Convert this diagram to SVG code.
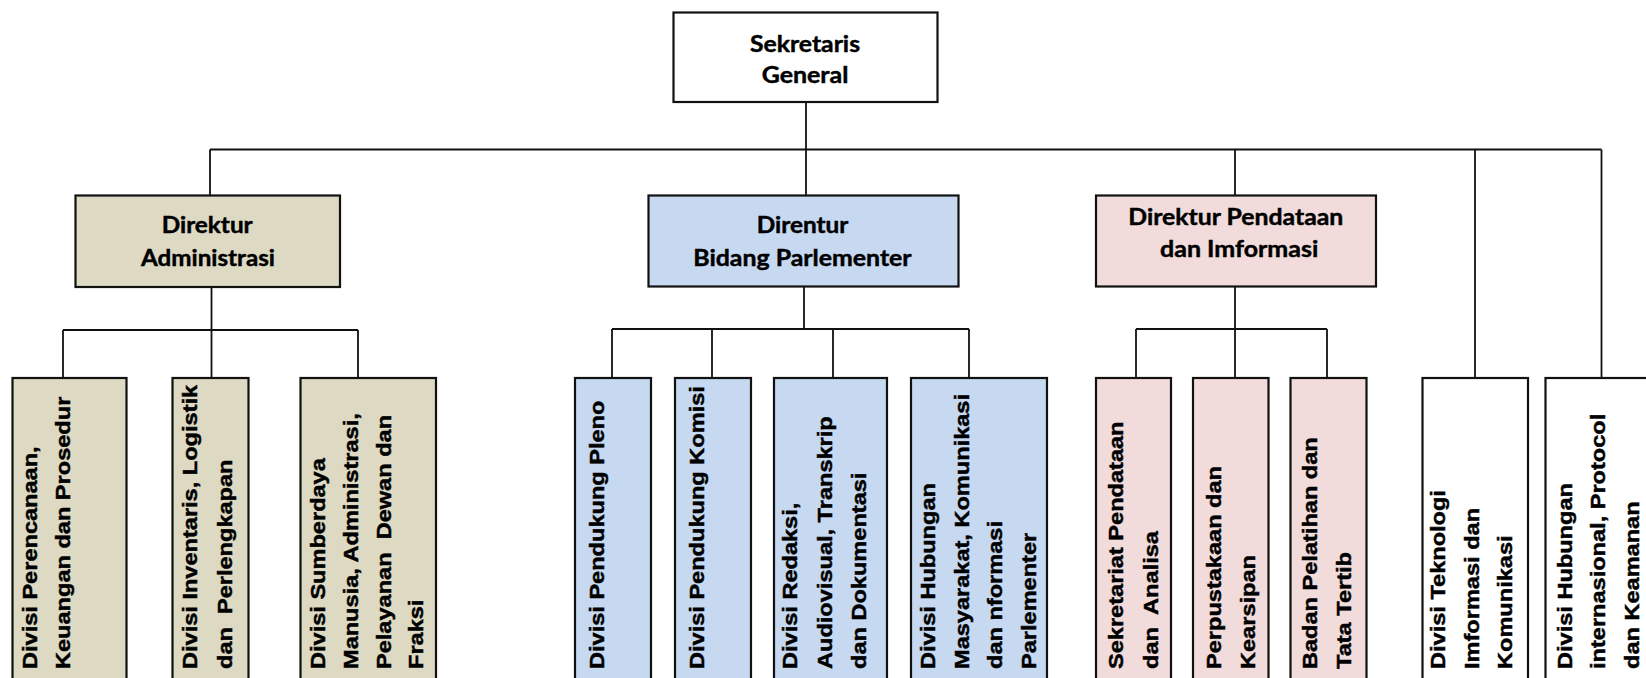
<svg xmlns="http://www.w3.org/2000/svg" width="1646" height="678" viewBox="0 0 1646 678">
  <style>
    .box { stroke: #111; stroke-width: 2.2; }
    .tan { fill: #DDD9C3; }
    .blue { fill: #C6D9F1; }
    .pink { fill: #F2DCDB; }
    .plain { fill: #FFFFFF; }
    .link { stroke: #111; stroke-width: 1.8; fill: none; }
    .head { font-family: Lato, "Open Sans", "Liberation Sans", sans-serif; font-weight: 700; font-size: 23px; fill: #000; stroke: #000; stroke-width: 0.45; }
    .unit { font-family: "Liberation Sans", Arial, sans-serif; font-weight: 700; font-size: 20.5px; fill: #000; stroke: #000; stroke-width: 0.45; white-space: pre; }
  </style>

  <rect x="0" y="0" width="1646" height="678" fill="#FFFFFF"/>

  <!-- connectors -->
  <g id="connectors" class="link">
    <!-- top level -->
    <path d="M806 102 V195"/>
    <path d="M210 149.5 H1601.5"/>
    <path d="M210 149.5 V195"/>
    <path d="M1235 149.5 V195"/>
    <path d="M1475 149.5 V378"/>
    <path d="M1601.5 149.5 V378"/>
    <!-- administrasi branch -->
    <path d="M211.5 287 V330"/>
    <path d="M63 330 H358"/>
    <path d="M63 330 V378 M211.5 330 V378 M358 330 V378"/>
    <!-- parlementer branch -->
    <path d="M804 287 V329"/>
    <path d="M612 329 H969"/>
    <path d="M612 329 V378 M712 329 V378 M833 329 V378 M969 329 V378"/>
    <!-- pendataan branch -->
    <path d="M1235 287 V329"/>
    <path d="M1136 329 H1327"/>
    <path d="M1136 329 V378 M1235 329 V378 M1327 329 V378"/>
  </g>

  <!-- top node -->
  <g id="sekretaris-general">
    <rect class="box plain" x="673.5" y="12.5" width="264" height="89.5"/>
    <text class="head" x="750" y="51.7" textLength="110" lengthAdjust="spacingAndGlyphs">Sekretaris</text>
    <text class="head" x="761.7" y="83.3" textLength="86.7" lengthAdjust="spacingAndGlyphs">General</text>
  </g>

  <!-- directors -->
  <g id="direktur-administrasi">
    <rect class="box tan" x="75.5" y="195.5" width="264.5" height="91.5"/>
    <text class="head" x="161.7" y="233.3" textLength="91" lengthAdjust="spacingAndGlyphs">Direktur</text>
    <text class="head" x="141" y="266" textLength="134" lengthAdjust="spacingAndGlyphs">Administrasi</text>
  </g>
  <g id="direktur-parlementer">
    <rect class="box blue" x="648.5" y="195.5" width="310" height="91"/>
    <text class="head" x="756.7" y="233.3" textLength="91.7" lengthAdjust="spacingAndGlyphs">Direntur</text>
    <text class="head" x="693.3" y="266" textLength="218.3" lengthAdjust="spacingAndGlyphs">Bidang Parlementer</text>
  </g>
  <g id="direktur-pendataan">
    <rect class="box pink" x="1096" y="195.5" width="280" height="91"/>
    <text class="head" x="1128.3" y="225" textLength="215" lengthAdjust="spacingAndGlyphs">Direktur Pendataan</text>
    <text class="head" x="1160" y="256.7" textLength="158.3" lengthAdjust="spacingAndGlyphs">dan Imformasi</text>
  </g>

  <!-- divisions under Direktur Administrasi -->
  <g id="div-perencanaan">
    <rect class="box tan" x="12.5" y="378" width="114" height="320"/>
    <text class="unit" transform="translate(37.3 669) rotate(-90) scale(1.15 1)">Divisi Perencanaan,</text>
    <text class="unit" transform="translate(70 669) rotate(-90) scale(1.15 1)">Keuangan dan Prosedur</text>
  </g>
  <g id="div-inventaris">
    <rect class="box tan" x="172.5" y="378" width="76" height="320"/>
    <text class="unit" transform="translate(197.3 669) rotate(-90) scale(1.15 1)">Divisi Inventaris, Logistik</text>
    <text class="unit" transform="translate(231.7 669) rotate(-90) scale(1.15 1)">dan  Perlengkapan</text>
  </g>
  <g id="div-sumberdaya">
    <rect class="box tan" x="300.5" y="378" width="135.5" height="320"/>
    <text class="unit" transform="translate(325 669) rotate(-90) scale(1.15 1)">Divisi Sumberdaya</text>
    <text class="unit" transform="translate(358.3 669) rotate(-90) scale(1.15 1)">Manusia, Administrasi,</text>
    <text class="unit" transform="translate(390.7 669) rotate(-90) scale(1.15 1)">Pelayanan  Dewan dan</text>
    <text class="unit" transform="translate(423.3 669) rotate(-90) scale(1.15 1)">Fraksi</text>
  </g>

  <!-- divisions under Direntur Bidang Parlementer -->
  <g id="div-pleno">
    <rect class="box blue" x="575" y="378" width="76" height="320"/>
    <text class="unit" transform="translate(604 669) rotate(-90) scale(1.15 1)">Divisi Pendukung Pleno</text>
  </g>
  <g id="div-komisi">
    <rect class="box blue" x="675" y="378" width="76" height="320"/>
    <text class="unit" transform="translate(704 669) rotate(-90) scale(1.15 1)">Divisi Pendukung Komisi</text>
  </g>
  <g id="div-redaksi">
    <rect class="box blue" x="774" y="378" width="113" height="320"/>
    <text class="unit" transform="translate(797.3 669) rotate(-90) scale(1.15 1)">Divisi Redaksi,</text>
    <text class="unit" transform="translate(831.7 669) rotate(-90) scale(1.15 1)">Audiovisual, Transkrip</text>
    <text class="unit" transform="translate(866 669) rotate(-90) scale(1.15 1)">dan Dokumentasi</text>
  </g>
  <g id="div-humas">
    <rect class="box blue" x="911" y="378" width="136" height="320"/>
    <text class="unit" transform="translate(935 669) rotate(-90) scale(1.15 1)">Divisi Hubungan</text>
    <text class="unit" transform="translate(968.5 669) rotate(-90) scale(1.15 1)">Masyarakat, Komunikasi</text>
    <text class="unit" transform="translate(1002 669) rotate(-90) scale(1.15 1)">dan nformasi</text>
    <text class="unit" transform="translate(1035.5 669) rotate(-90) scale(1.15 1)">Parlementer</text>
  </g>

  <!-- units under Direktur Pendataan dan Imformasi -->
  <g id="sekretariat-pendataan">
    <rect class="box pink" x="1096" y="378" width="75" height="320"/>
    <text class="unit" transform="translate(1123.3 669) rotate(-90) scale(1.15 1)">Sekretariat Pendataan</text>
    <text class="unit" transform="translate(1157.6 669) rotate(-90) scale(1.15 1)">dan  Analisa</text>
  </g>
  <g id="perpustakaan">
    <rect class="box pink" x="1193" y="378" width="75.5" height="320"/>
    <text class="unit" transform="translate(1220.8 669) rotate(-90) scale(1.15 1)">Perpustakaan dan</text>
    <text class="unit" transform="translate(1255 669) rotate(-90) scale(1.15 1)">Kearsipan</text>
  </g>
  <g id="badan-pelatihan">
    <rect class="box pink" x="1290.5" y="378" width="76" height="320"/>
    <text class="unit" transform="translate(1317 669) rotate(-90) scale(1.15 1)">Badan Pelatihan dan</text>
    <text class="unit" transform="translate(1350.8 669) rotate(-90) scale(1.15 1)">Tata Tertib</text>
  </g>

  <!-- divisions reporting directly to Sekretaris General -->
  <g id="div-tik">
    <rect class="box plain" x="1422.5" y="378" width="105.5" height="320"/>
    <text class="unit" transform="translate(1445 669) rotate(-90) scale(1.15 1)">Divisi Teknologi</text>
    <text class="unit" transform="translate(1478.5 669) rotate(-90) scale(1.15 1)">Imformasi dan</text>
    <text class="unit" transform="translate(1512 669) rotate(-90) scale(1.15 1)">Komunikasi</text>
  </g>
  <g id="div-hubungan-internasional">
    <rect class="box plain" x="1545.5" y="378" width="120" height="320"/>
    <text class="unit" transform="translate(1571.5 669) rotate(-90) scale(1.15 1)">Divisi Hubungan</text>
    <text class="unit" transform="translate(1605 669) rotate(-90) scale(1.15 1)">internasional, Protocol</text>
    <text class="unit" transform="translate(1638.5 669) rotate(-90) scale(1.15 1)">dan Keamanan</text>
  </g>
</svg>
